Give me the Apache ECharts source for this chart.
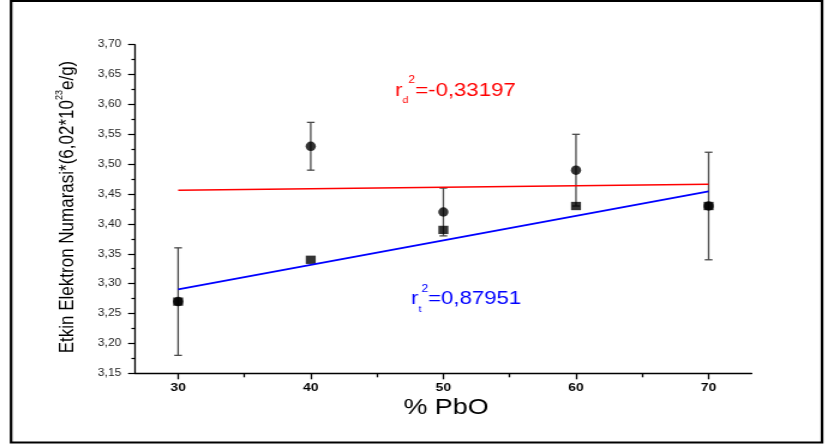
<!DOCTYPE html>
<html>
<head>
<meta charset="utf-8">
<script src="https://cdn.jsdelivr.net/npm/echarts@6/dist/echarts.min.js"></script>
<style>
  html, body { margin: 0; padding: 0; background: #fff; overflow: hidden; }
  #wrap { width: 827px; height: 448px; overflow: hidden; }
  /* the figure is drawn 1.2x wider than tall, like the exported plot */
  #chart { width: 689px; height: 448px; transform: scaleX(1.2); transform-origin: 0 0; }
</style>
</head>
<body>
<div id="wrap"><div id="chart"></div></div>
<script>
// % PbO content of the glass series
const pbo = [30, 40, 50, 60, 70];
// effective electron numbers from experiment (circles) and their uncertainties
const measured = [3.27, 3.53, 3.42, 3.49, 3.43];
const measuredErr = [0.09, 0.04, 0.04, 0.06, 0.09];
// theoretical effective electron numbers (squares)
const calculated = [3.27, 3.34, 3.39, 3.43, 3.43];
// end points of the two fitted lines
const fitX = [30, 70];
const fitMeasured = [3.4565, 3.4665];
const fitCalculated = [3.2905, 3.4545];
// axis ranges and ticks
const xMin = 26.75, xMax = 73.25;
const xMajorTicks = [30, 40, 50, 60, 70];
const xMinorTicks = [35, 45, 55, 65];
const yMin = 3.15, yMax = 3.70, yStep = 0.05;
// fit statistics written beside the lines
const r2Measured = '-0,33197';
const r2Calculated = '0,87951';

const FONT = '"Liberation Sans", Arial, Helvetica, sans-serif';
const chart = echarts.init(document.getElementById('chart'), null, { renderer: 'canvas' });

const errData = pbo.map((x, i) => [x, measured[i] - measuredErr[i], measured[i] + measuredErr[i]]);

function renderErrorBar(params, api) {
  const x = api.value(0);
  const lo = api.coord([x, api.value(1)]);
  const hi = api.coord([x, api.value(2)]);
  const cap = 3.2;
  const style = { stroke: '#4a4a4a', lineWidth: 1.3 };
  return {
    type: 'group',
    children: [
      { type: 'line', shape: { x1: lo[0], y1: lo[1], x2: hi[0], y2: hi[1] }, style },
      { type: 'line', shape: { x1: lo[0] - cap, y1: lo[1], x2: lo[0] + cap, y2: lo[1] }, style },
      { type: 'line', shape: { x1: hi[0] - cap, y1: hi[1], x2: hi[0] + cap, y2: hi[1] }, style }
    ]
  };
}

const option = {
  animation: false,
  backgroundColor: '#fff',
  grid: { left: 112.5, top: 44.7, width: 513.9, height: 328.6 },
  xAxis: [
    {
      type: 'value', min: xMin, max: xMax, position: 'bottom',
      axisLine: { show: true, lineStyle: { color: '#000', width: 1.3 } },
      axisTick: { show: true, customValues: xMajorTicks, length: 6, lineStyle: { color: '#000', width: 1.3 } },
      axisLabel: {
        customValues: xMajorTicks, margin: 9, fontSize: 11.5, fontWeight: 'bold',
        color: '#000', fontFamily: FONT
      },
      splitLine: { show: false }
    },
    {
      type: 'value', min: xMin, max: xMax, position: 'bottom', offset: 0,
      axisLine: { show: false },
      axisTick: { show: true, customValues: xMinorTicks, length: 4, lineStyle: { color: '#000', width: 1.3 } },
      axisLabel: { show: false },
      splitLine: { show: false }
    }
  ],
  yAxis: {
    type: 'value', min: yMin, max: yMax, interval: yStep,
    axisLine: { show: true, lineStyle: { color: '#000', width: 1.3 } },
    axisTick: { show: true, length: 5.8, lineStyle: { color: '#000', width: 1.2 } },
    minorTick: { show: true, splitNumber: 2, length: 3, lineStyle: { color: '#000', width: 1.2 } },
    axisLabel: {
      margin: 11.5, fontSize: 10, color: '#222', fontFamily: FONT,
      formatter: v => v.toFixed(2).replace('.', ',')
    },
    splitLine: { show: false },
    minorSplitLine: { show: false }
  },
  series: [
    {
      type: 'custom', name: 'hata', renderItem: renderErrorBar,
      data: errData, z: 1, encode: { x: 0, y: [1, 2] }
    },
    {
      type: 'scatter', name: 'teorik', symbol: 'rect', symbolSize: [8.3, 8.3],
      itemStyle: { color: '#000' }, z: 2,
      data: pbo.map((x, i) => [x, calculated[i]])
    },
    {
      type: 'scatter', name: 'deneysel', symbol: 'circle', symbolSize: [8.5, 9.5],
      itemStyle: { color: '#000' }, z: 3,
      data: pbo.map((x, i) => [x, measured[i]])
    },
    {
      type: 'line', name: 'fit d', symbol: 'none', z: 4,
      lineStyle: { color: '#ff0000', width: 1.6 },
      data: fitX.map((x, i) => [x, fitMeasured[i]])
    },
    {
      type: 'line', name: 'fit t', symbol: 'none', z: 4,
      lineStyle: { color: '#0000ff', width: 1.6 },
      data: fitX.map((x, i) => [x, fitCalculated[i]])
    }
  ],
  graphic: [
    {
      type: 'rect', silent: true,
      shape: { x: 9.2, y: 1, width: 675.8, height: 441.5 },
      style: { fill: null, stroke: '#000', lineWidth: 2.2 }
    },
    {
      type: 'text', x: 371.7, y: 408,
      style: {
        text: '% PbO', fill: '#000', fontSize: 22.4, fontFamily: FONT,
        align: 'center', verticalAlign: 'middle'
      }
    },
    {
      type: 'text', x: 56.7, y: 207, rotation: Math.PI / 2,
      style: {
        text: '{m|Etkin Elektron Numarasi*(6,02*10}{sup|23}{m|e/g)}',
        fill: '#000', align: 'center', verticalAlign: 'middle',
        rich: {
          m: { fontSize: 17, fontFamily: FONT, lineHeight: 24, verticalAlign: 'middle', fill: '#000' },
          sup: { fontSize: 9, fontFamily: FONT, lineHeight: 16, verticalAlign: 'top', fill: '#000' }
        }
      }
    },
    {
      type: 'text', x: 329.2, y: 75.5,
      style: {
        text: '{m|r}{sub|d}{sup|2}{m|=' + r2Measured + '}',
        fill: '#ff0000', align: 'left', verticalAlign: 'top',
        rich: {
          m: { fontSize: 18.5, fontFamily: FONT, lineHeight: 30, verticalAlign: 'middle', fill: '#ff0000' },
          sub: { fontSize: 9, fontFamily: FONT, lineHeight: 14, verticalAlign: 'bottom', fill: '#ff0000' },
          sup: { fontSize: 10, fontFamily: FONT, lineHeight: 16.6, verticalAlign: 'top', fill: '#ff0000' }
        }
      }
    },
    {
      type: 'text', x: 342.5, y: 284,
      style: {
        text: '{m|r}{sub|t}{sup|2}{m|=' + r2Calculated + '}',
        fill: '#0000ff', align: 'left', verticalAlign: 'top',
        rich: {
          m: { fontSize: 18.5, fontFamily: FONT, lineHeight: 30, verticalAlign: 'middle', fill: '#0000ff' },
          sub: { fontSize: 9, fontFamily: FONT, lineHeight: 14, verticalAlign: 'bottom', fill: '#0000ff' },
          sup: { fontSize: 10, fontFamily: FONT, lineHeight: 16.6, verticalAlign: 'top', fill: '#0000ff' }
        }
      }
    }
  ]
};

chart.setOption(option);
</script>
</body>
</html>
